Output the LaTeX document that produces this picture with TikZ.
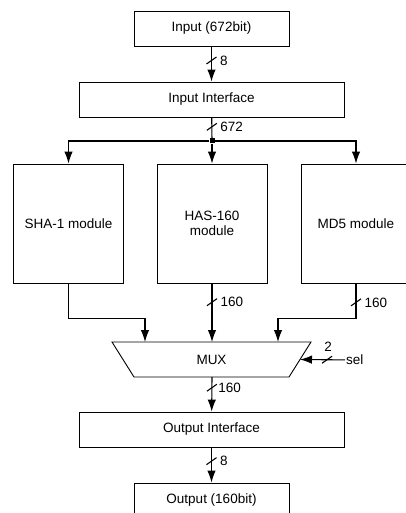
\documentclass[tikz,border=0pt]{standalone}
\usepackage{fontspec}
\setmainfont{Liberation Sans}
\usetikzlibrary{arrows.meta}
\usetikzlibrary{calc}
\usetikzlibrary{scopes}

\begin{document}
\begin{tikzpicture}[
    x=1pt,y=-1pt,
    font=\fontsize{13.5}{15}\selectfont,
    wire/.style={line width=1.1pt},
    bus/.style={wire,-{Latex[length=12pt,width=8.5pt]}},
    box/.style={rectangle,draw,line width=0.9pt,inner sep=0pt,minimum height=35pt},
    smallbox/.style={box,minimum width=155pt},
    widebox/.style={box,minimum width=265pt},
    module/.style={box,minimum width=110pt,minimum height=119pt,align=center},
    bits/.style={anchor=west,inner sep=0pt,xshift=8pt},
    dot/.style={rectangle,fill,inner sep=0pt,minimum size=5pt},
]
    \useasboundingbox (0,0) rectangle (405,513);

    % Input side
    \node[smallbox] (in) at (211.5,28.5) {Input (672bit)};
    \node[widebox] (iif) at (211.5,99.5) {Input Interface};
    \node[dot] (j) at (212,141) {};
    \draw[bus] (in) -- (iif) node[pos=0.4,bits] {8} coordinate[pos=0.4] (s1);
    \draw[wire] (iif) -- (j) node[pos=0.45,bits] {672} coordinate[pos=0.45] (s2);

    % Hash modules
    \node[module] (sha) at (68.5,223.5) {SHA-1 module};
    \node[module] (has) at (212,223.5) {HAS-160\\module};
    \node[module] (md5) at (356,223.5) {MD5 module};
    {[bus]
        \draw (j) -| (sha);
        \draw (j) -- (has);
        \draw (j) -| (md5);
    }

    % Multiplexer
    \coordinate (mtl) at (112,342);
    \coordinate (mtr) at (311,342);
    \coordinate (mbr) at (289,377);
    \coordinate (mbl) at (134,377);
    \coordinate (mr) at (300,359.5);
    \coordinate (m1) at (145,342);
    \coordinate (m2) at (212,342);
    \coordinate (m3) at (278,342);
    \coordinate (mb) at (212,377);
    \draw[wire,line width=0.9pt] (mtl) -- (mtr) -- (mbr) -- (mbl) -- cycle;
    \node (mux) at (211.5,359.5) {MUX};
    \draw[bus] (sha.south) -- ++(0,35) -| (m1);
    \draw[bus] (has) -- (m2) node[pos=0.32,bits] {160} coordinate[pos=0.32] (s3);
    \draw[bus] (md5.south) -- node[pos=0.54,bits] {160} coordinate[pos=0.54] (s4) ++(0,35) -| (m3);

    % select input
    \node[anchor=west,inner sep=1pt] (sel) at (345,360) {sel};
    \draw[bus] (sel) -- (mr) coordinate[pos=0.4] (s7);
    \node (two) at (328,347) {2};

    % Output side
    \node[widebox] (oif) at (211.5,429.5) {Output Interface};
    \node[smallbox] (out) at (211.5,500.5) {Output (160bit)};
    \draw[bus] (mb) -- (oif) node[pos=0.31,bits,xshift=-2pt] {160} coordinate[pos=0.31] (s5);
    \draw[bus] (oif) -- (out) node[pos=0.39,bits] {8} coordinate[pos=0.39] (s6);

    % bus width marks
    \foreach \s in {s1,s2,s3,s4,s5,s6,s7}
        \draw[wire] (\s) ++(-5,3.5) -- ++(10,-7);
\end{tikzpicture}
\end{document}
